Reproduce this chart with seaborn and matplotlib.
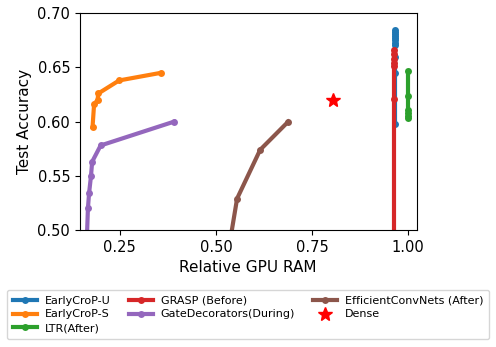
import matplotlib
matplotlib.use("Agg")
import pandas as pd
import seaborn as sns
import matplotlib.pyplot as plt

# data
earlycrop_u_x = [0.966, 0.966, 0.966, 0.966, 0.966, 0.966, 0.966, 0.966, 0.966, 0.966, 0.966]
earlycrop_u_y = [0.685, 0.683, 0.681, 0.679, 0.677, 0.675, 0.673, 0.671, 0.660, 0.645, 0.598]

earlycrop_s_x = [0.179, 0.183, 0.192, 0.194, 0.248, 0.356]
earlycrop_s_y = [0.595, 0.616, 0.620, 0.626, 0.638, 0.645]

ltr_x = [1.0, 1.0, 1.0, 1.0, 1.0, 1.0]
ltr_y = [0.647, 0.624, 0.611, 0.608, 0.605, 0.603]

grasp_x = [0.963, 0.963, 0.963, 0.963, 0.963, 0.963, 0.963]
grasp_y = [0.666, 0.662, 0.658, 0.654, 0.651, 0.621, 0.10]

gate_x = [0.391, 0.200, 0.178, 0.175, 0.170, 0.167, 0.160]
gate_y = [0.600, 0.578, 0.563, 0.550, 0.534, 0.520, 0.45]

ecn_x = [0.688, 0.615, 0.555, 0.518]
ecn_y = [0.600, 0.574, 0.529, 0.45]

dense_x = [0.805]
dense_y = [0.620]

series = [
    ("EarlyCroP-U", earlycrop_u_x, earlycrop_u_y, "tab:blue"),
    ("EarlyCroP-S", earlycrop_s_x, earlycrop_s_y, "tab:orange"),
    ("LTR(After)", ltr_x, ltr_y, "tab:green"),
    ("GRASP (Before)", grasp_x, grasp_y, "tab:red"),
    ("GateDecorators(During)", gate_x, gate_y, "tab:purple"),
    ("EfficientConvNets (After)", ecn_x, ecn_y, "tab:brown"),
]

fig = plt.figure(figsize=(4.96, 3.47), dpi=100)
ax = fig.add_axes([0.161, 0.3372, 0.679, 0.6245])

for name, xs, ys, color in series:
    df = pd.DataFrame({"x": xs, "y": ys})
    sns.lineplot(data=df, x="x", y="y", sort=False, estimator=None, ax=ax,
                 color=color, linewidth=3, marker="o", markersize=5,
                 markeredgewidth=0, label=name)

ax.plot(dense_x, dense_y, linestyle="none", marker="*", markersize=10,
        color="red", label="Dense")

ax.set_xlim(0.146, 1.022)
ax.set_ylim(0.5, 0.7)
ax.set_xticks([0.25, 0.5, 0.75, 1.0])
ax.set_yticks([0.5, 0.55, 0.6, 0.65, 0.7])
ax.tick_params(labelsize=10.5)
ax.set_xlabel("Relative GPU RAM", fontsize=11)
ax.set_ylabel("Test Accuracy", fontsize=11)

ax.legend(loc="upper center", bbox_to_anchor=(0.5, -0.277), ncol=3, fontsize=8,
          labelspacing=0.35, handlelength=2.2, handletextpad=0.7,
          borderpad=0.5, borderaxespad=0, columnspacing=1.6)

fig.savefig("out.png", dpi=100)
